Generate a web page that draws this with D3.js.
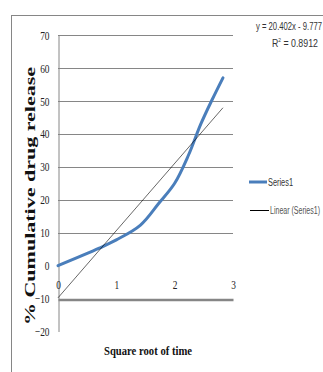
<!DOCTYPE html>
<html>
<head>
<meta charset="utf-8">
<script src="https://cdn.jsdelivr.net/npm/d3@7"></script>
<style>
  html, body { margin: 0; padding: 0; background: #fff; }
  svg { display: block; }
</style>
</head>
<body>
<svg id="chart" width="323" height="372"></svg>
<script>
// Drug release vs square root of time (Higuchi plot)
const sqrtTime = [0, 0.707, 1, 1.414, 1.732, 2, 2.236, 2.449, 2.646, 2.828];
const release  = [0, 5.3, 7.8, 12.3, 19, 25, 33.5, 43, 50.5, 57];
const xTicks = [0, 1, 2, 3];
const yTicks = [70, 60, 50, 40, 30, 20, 10, 0, -10, -20];
const gridValues = [70, 60, 50, 40, 30, 20, 10];
const trendSlope = 20.402;
const trendIntercept = -9.777;
const rSquared = 0.8912;
const seriesName = "Series1";
const trendName = "Linear (Series1)";

const svg = d3.select("#chart");
const grey = "#868686";

// chart area frame
svg.append("rect")
  .attr("x", 11.5).attr("y", 15.5)
  .attr("width", 400).attr("height", 400)
  .attr("fill", "none").attr("stroke", grey).attr("stroke-width", 1);

const x = d3.scaleLinear().domain([0, 3]).range([58, 233]);
const y = d3.scaleLinear().domain([-20, 70]).range([331.5, 35]);

// horizontal gridlines
svg.append("g").selectAll("line").data(gridValues).join("line")
  .attr("x1", x(0)).attr("x2", x(3))
  .attr("y1", d => Math.round(y(d)) + 0.5).attr("y2", d => Math.round(y(d)) + 0.5)
  .attr("stroke", grey).attr("stroke-width", 1);

// condensed tick label width factor
const sx = 0.72;

// vertical axis
const yAxis = svg.append("g")
  .attr("transform", `translate(${x(0) + 0.5},0)`)
  .call(d3.axisLeft(y).tickValues(yTicks).tickSize(0).tickFormat(d3.format("d")));
yAxis.select(".domain").attr("stroke", grey).attr("stroke-width", 1);
yAxis.selectAll("text")
  .attr("font-family", "'Liberation Serif', serif")
  .attr("font-size", 13).attr("fill", "#222")
  .attr("transform", `scale(${sx},1)`)
  .attr("x", -9 / sx);

// horizontal axis crossing at -10
const xAxis = svg.append("g")
  .attr("transform", `translate(0,${Math.round(y(-10)) + 0.5})`)
  .call(d3.axisBottom(x).tickValues(xTicks).tickSize(0).tickFormat(d3.format("d")));
xAxis.select(".domain").attr("stroke", grey).attr("stroke-width", 2.5);
xAxis.selectAll("text")
  .attr("font-family", "'Liberation Serif', serif")
  .attr("font-size", 13).attr("fill", "#222")
  .attr("transform", `scale(${sx},1)`)
  .attr("y", -20).attr("dy", "0.71em");

// data series (smoothed)
const pts = sqrtTime.map((t, i) => [t, release[i]]);
svg.append("path")
  .datum(pts)
  .attr("fill", "none")
  .attr("stroke", "#4A7EBB")
  .attr("stroke-width", 3)
  .attr("stroke-linecap", "round")
  .attr("d", d3.line().x(d => x(d[0])).y(d => y(d[1])).curve(d3.curveCatmullRom.alpha(0.5)));

// linear trendline
const tMax = d3.max(sqrtTime);
svg.append("line")
  .attr("x1", x(0)).attr("y1", y(trendIntercept))
  .attr("x2", x(tMax)).attr("y2", y(trendSlope * tMax + trendIntercept))
  .attr("stroke", "#000").attr("stroke-width", 0.6);

// trendline equation
const eq = svg.append("g").attr("font-family", "'Liberation Sans Narrow', 'Liberation Sans', sans-serif").attr("fill", "#333");
eq.append("text")
  .attr("x", 256).attr("y", 30)
  .attr("font-size", 11)
  .attr("textLength", 66).attr("lengthAdjust", "spacingAndGlyphs")
  .text(`y = ${trendSlope}x - ${Math.abs(trendIntercept)}`);
const r2 = eq.append("text")
  .attr("x", 272).attr("y", 47)
  .attr("font-size", 11);
r2.append("tspan").text("R");
r2.append("tspan").attr("font-size", 6).attr("dy", -5).text("2");
r2.append("tspan").attr("dy", 5).text(` = ${rSquared}`);
// keep the R² line narrow
r2.attr("transform", `translate(272,0) scale(0.8,1) translate(-272,0)`);

// legend
const legend = svg.append("g").attr("font-family", "'Liberation Sans Narrow', 'Liberation Sans', sans-serif").attr("font-size", 10);
legend.append("line").attr("x1", 249).attr("x2", 267).attr("y1", 182).attr("y2", 182)
  .attr("stroke", "#4A7EBB").attr("stroke-width", 3);
legend.append("text").attr("x", 268).attr("y", 186).attr("fill", "#333")
  .attr("textLength", 25).attr("lengthAdjust", "spacingAndGlyphs").text(seriesName);
legend.append("line").attr("x1", 250).attr("x2", 269).attr("y1", 210.5).attr("y2", 210.5)
  .attr("stroke", "#000").attr("stroke-width", 1);
legend.append("text").attr("x", 270).attr("y", 214).attr("fill", "#555")
  .attr("textLength", 50).attr("lengthAdjust", "spacingAndGlyphs").text(trendName);

// axis titles
svg.append("text")
  .attr("x", 148).attr("y", 355)
  .attr("text-anchor", "middle")
  .attr("font-family", "'Liberation Serif', serif")
  .attr("font-weight", "bold").attr("font-size", 13).attr("fill", "#111")
  .attr("textLength", 88).attr("lengthAdjust", "spacingAndGlyphs")
  .text("Square root of time");

svg.append("text")
  .attr("transform", "translate(35,196) rotate(-90)")
  .attr("text-anchor", "middle")
  .attr("font-family", "'Liberation Serif', serif")
  .attr("font-weight", "bold").attr("font-size", 14).attr("fill", "#111")
  .attr("textLength", 258).attr("lengthAdjust", "spacingAndGlyphs")
  .text("% Cumulative drug release");
</script>
</body>
</html>
